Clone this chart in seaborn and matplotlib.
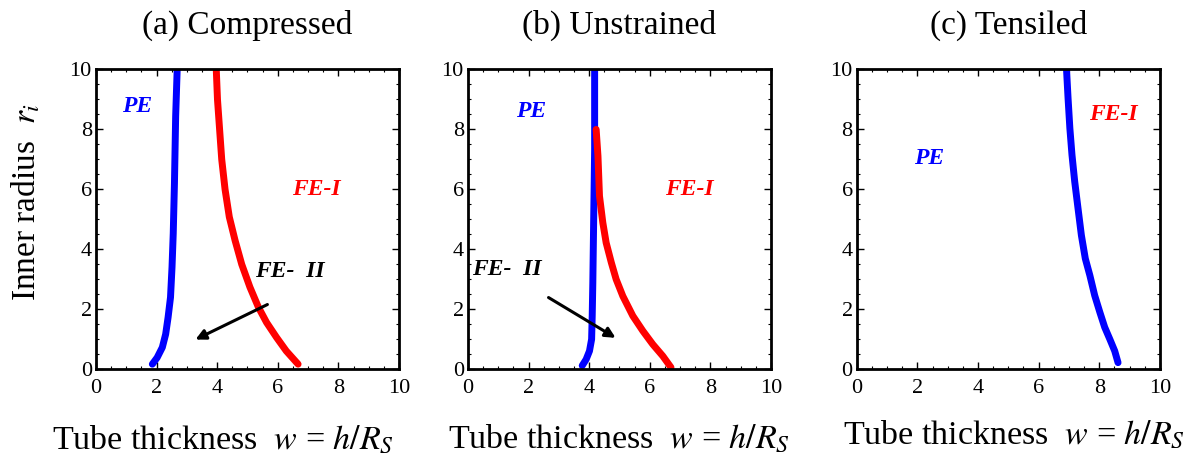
import matplotlib
matplotlib.use("Agg")
import matplotlib.pyplot as plt
from matplotlib.ticker import MultipleLocator
import seaborn as sns
import pandas as pd

# phase boundaries: (w, r_i)
a_blue_w = [1.86, 2.02, 2.19, 2.30, 2.38, 2.46, 2.51, 2.55, 2.59, 2.63, 2.68]
a_blue_r = [0.17, 0.39, 0.73, 1.17, 1.73, 2.4, 3.41, 4.53, 6.2, 8.44, 10.0]
a_red_w = [3.97, 4.01, 4.08, 4.15, 4.26, 4.40, 4.59, 4.81, 5.08, 5.36, 5.63, 5.96, 6.28, 6.67]
a_red_r = [10.0, 9.0, 8.0, 7.0, 6.0, 5.08, 4.3, 3.5, 2.74, 2.07, 1.56, 1.06, 0.61, 0.17]

b_blue_w = [3.77, 3.9, 4.01, 4.08, 4.10, 4.12, 4.15, 4.18, 4.18]
b_blue_r = [0.12, 0.33, 0.61, 1.0, 1.78, 2.89, 5.11, 7.33, 10.0]
b_red_w = [4.23, 4.29, 4.34, 4.45, 4.56, 4.73, 4.89, 5.11, 5.44, 5.77, 6.1, 6.43, 6.70]
b_red_r = [8.0, 7.11, 5.78, 4.89, 4.22, 3.56, 3.0, 2.44, 1.78, 1.28, 0.83, 0.44, 0.06]

c_blue_w = [6.92, 6.97, 7.03, 7.1, 7.19, 7.3, 7.41, 7.54, 7.69, 7.85, 8.02, 8.18, 8.35, 8.51, 8.62]
c_blue_r = [10.0, 9.05, 8.04, 7.15, 6.26, 5.36, 4.47, 3.69, 3.13, 2.46, 1.9, 1.4, 1.0, 0.61, 0.22]

titles = ["(a) Compressed", "(b) Unstrained", "(c) Tensiled"]
xlabel = "Tube thickness  $w$ = $h/R_S$"
ylabel = "Inner radius  $r_i$"

sns.set_style("ticks")
plt.rcParams["font.family"] = ["Liberation Serif", "DejaVu Serif"]
plt.rcParams["mathtext.fontset"] = "stix"
for k in ["text.color", "axes.labelcolor", "xtick.color", "ytick.color", "axes.edgecolor"]:
    plt.rcParams[k] = "black"

fig = plt.figure(figsize=(11.95, 4.57), dpi=100)
lefts = [0.0803, 0.3916, 0.717]
axes = [fig.add_axes([l, 0.192, 0.2536, 0.656]) for l in lefts]

blue = "#0000ff"
red = "#ff0000"
lw = 5

def curve(ax, w, r, color):
    df = pd.DataFrame({"w": w, "r": r})
    sns.lineplot(data=df, x="w", y="r", ax=ax, color=color, lw=lw,
                 sort=False, estimator=None, solid_capstyle="round",
                 solid_joinstyle="round")

curve(axes[0], a_blue_w, a_blue_r, blue)
curve(axes[0], a_red_w, a_red_r, red)
curve(axes[1], b_blue_w, b_blue_r, blue)
curve(axes[1], b_red_w, b_red_r, red)
curve(axes[2], c_blue_w, c_blue_r, blue)

lab = dict(fontsize=17, fontweight="bold", fontstyle="italic", ha="center", va="center")
arrow = dict(arrowstyle="-|>", color="black", lw=2.2, mutation_scale=15)

axes[0].text(1.37, 8.77, "PE", color=blue, **lab)
axes[0].text(7.27, 5.98, "FE-I", color=red, **lab)
axes[0].text(6.41, 3.25, "FE-  II", color="black", **lab)
axes[0].annotate("", xy=(3.2, 0.95), xytext=(5.74, 2.2), arrowprops=arrow)

axes[1].text(2.09, 8.6, "PE", color=blue, **lab)
axes[1].text(7.3, 6.0, "FE-I", color=red, **lab)
axes[1].text(1.29, 3.33, "FE-  II", color="black", **lab)
axes[1].annotate("", xy=(4.95, 1.0), xytext=(2.58, 2.44), arrowprops=arrow)

axes[2].text(2.4, 7.04, "PE", color=blue, **lab)
axes[2].text(8.46, 8.49, "FE-I", color=red, **lab)

for ax, t in zip(axes, titles):
    ax.set_xlim(0, 10)
    ax.set_ylim(0, 10)
    ax.xaxis.set_major_locator(MultipleLocator(2))
    ax.yaxis.set_major_locator(MultipleLocator(2))
    ax.xaxis.set_minor_locator(MultipleLocator(0.5))
    ax.yaxis.set_minor_locator(MultipleLocator(0.5))
    ax.tick_params(which="both", direction="in", top=True, right=True, labelsize=16)
    ax.tick_params(which="major", length=5, width=1)
    ax.tick_params(which="minor", length=2.5, width=0.8)
    ax.tick_params(axis="x", pad=7)
    ax.tick_params(axis="y", pad=3)
    for s in ax.spines.values():
        s.set_linewidth(2)
    ax.set_title(t, fontsize=24, pad=26)
    ax.set_xlabel(xlabel, fontsize=24.5, labelpad=18)
    ax.set_ylabel("")

# x labels sit a little off-centre in the original
axes[0].xaxis.set_label_coords(0.42, -0.18)
axes[2].xaxis.set_label_coords(0.52, -0.165)

axes[0].set_ylabel(ylabel, fontsize=24)
axes[0].yaxis.set_label_coords(-0.178, 0.557)

fig.savefig("out.png", dpi=100)
